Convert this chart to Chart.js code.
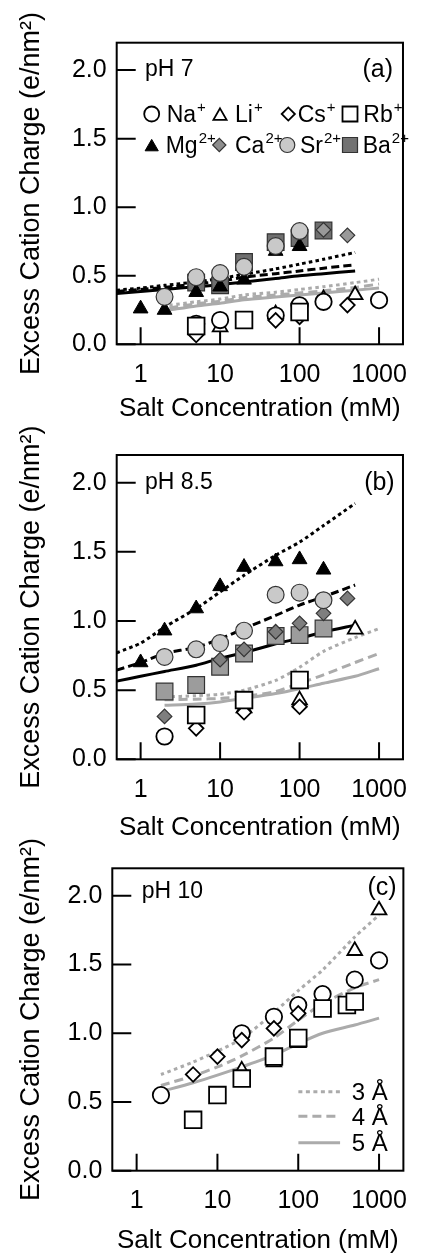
<!DOCTYPE html>
<html>
<head>
<meta charset="utf-8">
<script src="https://cdn.jsdelivr.net/npm/chart.js@4.4.1/dist/chart.umd.min.js"></script>
<style>
  html, body { margin: 0; padding: 0; background: #fff; }
  #wrap { position: relative; width: 426px; height: 1255px; overflow: hidden; }
  canvas { position: absolute; left: 0; }
</style>
</head>
<body>
<div id="wrap">
  <canvas id="pa" width="426" height="430" style="top:0px"></canvas>
  <canvas id="pb" width="426" height="440" style="top:410px"></canvas>
  <canvas id="pc" width="426" height="425" style="top:830px"></canvas>
</div>
<script>
const FONT = '"Liberation Sans", Arial, Helvetica, sans-serif';

// Axis ticks and titles
const saltTicks = [1, 10, 100, 1000];
const chargeTicks = [0, 0.5, 1.0, 1.5, 2.0];
const xTitle = 'Salt Concentration (mM)';
const yTitle = 'Excess Cation Charge (e/nm²)';

// ---------- pH 7 : measured excess charge [salt mM, e/nm²] ----------
const na7 = [[5, 0.15], [10, 0.177], [50, 0.21], [100, 0.285], [200, 0.31], [1000, 0.322]];
const li7 = [[10, 0.125], [50, 0.22], [200, 0.33], [500, 0.36]];
const cs7 = [[5, 0.068], [50, 0.175], [100, 0.2], [400, 0.286]];
const rb7 = [[5, 0.133], [20, 0.177], [100, 0.236]];
const mg7 = [[1, 0.26], [2, 0.25], [5, 0.38], [10, 0.42], [20, 0.47], [50, 0.68], [100, 0.715]];
const ca7 = [[200, 0.835], [400, 0.795]];
const sr7 = [[2, 0.346], [5, 0.49], [10, 0.52], [20, 0.565], [50, 0.717], [100, 0.826]];
const ba7 = [[5, 0.45], [10, 0.43], [20, 0.60], [50, 0.745], [100, 0.775], [200, 0.83]];
// model curves, divalent (black) and monovalent (gray)
const xDiv7 = [0.5, 1, 2, 5, 10, 20, 50, 100, 200, 500];
const divDot7 = [0.395, 0.41, 0.43, 0.455, 0.48, 0.51, 0.55, 0.585, 0.62, 0.67];
const divDash7 = [0.385, 0.40, 0.415, 0.44, 0.46, 0.49, 0.515, 0.535, 0.555, 0.58];
const divSolid7 = [0.37, 0.385, 0.40, 0.42, 0.435, 0.455, 0.48, 0.50, 0.515, 0.535];
const xMono7 = [2.3, 5, 10, 20, 50, 100, 200, 500, 1000];
const monoDot7 = [0.285, 0.31, 0.33, 0.36, 0.38, 0.40, 0.42, 0.45, 0.475];
const monoDash7 = [0.265, 0.295, 0.315, 0.34, 0.36, 0.375, 0.39, 0.415, 0.44];
const monoSolid7 = [0.25, 0.28, 0.30, 0.325, 0.345, 0.36, 0.375, 0.395, 0.41];

// ---------- pH 8.5 ----------
const na85 = [[2, 0.165]];
const li85 = [[20, 0.37], [100, 0.428], [500, 0.94]];
const cs85 = [[5, 0.224], [20, 0.34], [100, 0.38]];
const rb85 = [[5, 0.32], [20, 0.428], [100, 0.573]];
const mg85 = [[1, 0.70], [2, 0.93], [5, 1.09], [10, 1.25], [20, 1.39], [50, 1.43], [100, 1.445], [200, 1.37]];
const ca85 = [[2, 0.31], [10, 0.72], [20, 0.795], [50, 0.922], [100, 0.983], [200, 1.055], [400, 1.163]];
const sr85 = [[2, 0.74], [5, 0.795], [10, 0.84], [20, 0.93], [50, 1.19], [100, 1.205], [200, 1.15]];
const ba85 = [[2, 0.49], [5, 0.537], [10, 0.669], [20, 0.765], [50, 0.891], [100, 0.898], [200, 0.946]];
const xDiv85 = [0.5, 1, 2, 5, 10, 20, 50, 100, 200, 500];
const divDot85 = [0.77, 0.84, 0.955, 1.09, 1.21, 1.33, 1.475, 1.57, 1.69, 1.85];
const divDash85 = [0.645, 0.70, 0.765, 0.81, 0.87, 0.945, 1.04, 1.115, 1.175, 1.26];
const divSolid85 = [0.565, 0.60, 0.635, 0.68, 0.73, 0.77, 0.835, 0.875, 0.92, 0.97];
const xMono85 = [2, 5, 10, 20, 50, 100, 200, 500, 1000];
const monoDot85 = [0.45, 0.46, 0.47, 0.50, 0.57, 0.665, 0.78, 0.88, 0.945];
const monoDash85 = [0.43, 0.435, 0.44, 0.455, 0.49, 0.55, 0.61, 0.70, 0.765];
const monoSolid85 = [0.39, 0.40, 0.415, 0.44, 0.475, 0.51, 0.55, 0.60, 0.655];

// ---------- pH 10 ----------
const na10 = [[2, 0.55], [20, 1.0], [50, 1.12], [100, 1.205], [200, 1.285], [500, 1.39], [1000, 1.53]];
const li10 = [[20, 0.73], [50, 0.79], [100, 0.93], [500, 1.60], [1000, 1.895]];
const cs10 = [[5, 0.70], [10, 0.83], [20, 0.95], [50, 1.035], [100, 1.145]];
const rb10 = [[5, 0.37], [10, 0.55], [20, 0.67], [50, 0.83], [100, 0.965], [200, 1.18], [400, 1.205], [500, 1.23]];
const xMono10 = [2, 5, 10, 20, 50, 100, 200, 500, 1000];
const r3A = [0.70, 0.79, 0.87, 0.96, 1.15, 1.31, 1.46, 1.70, 1.86];
const r4A = [0.62, 0.69, 0.755, 0.835, 0.965, 1.095, 1.215, 1.33, 1.39];
const r5A = [0.575, 0.64, 0.695, 0.755, 0.84, 0.925, 1.0, 1.06, 1.11];

// ---------- styles ----------
const GRAY_LINE = '#ababab';
const MARK = {
  na: { pointStyle: 'circle',   radius: 8.2, bg: '#ffffff', bc: '#000', bw: 1.8 },
  li: { pointStyle: 'triangle', radius: 8.5, bg: '#ffffff', bc: '#000', bw: 1.8 },
  cs: { pointStyle: 'rectRot',  radius: 7.3, bg: '#ffffff', bc: '#000', bw: 1.8 },
  rb: { pointStyle: 'rect',     radius: 11.8, bg: '#ffffff', bc: '#000', bw: 1.8 },
  mg: { pointStyle: 'triangle', radius: 8.5, bg: '#000000', bc: '#000', bw: 1 },
  ca: { pointStyle: 'rectRot',  radius: 7.3, bg: '#8e8e8e', bc: '#333', bw: 1.2 },
  sr: { pointStyle: 'circle',   radius: 8.4, bg: '#c9c9c9', bc: '#333', bw: 1.2 },
  ba: { pointStyle: 'rect',     radius: 11.8, bg: '#727272', bc: '#333', bw: 1.2 }
};

function markers(label, pairs, key, order, fill) {
  const m = MARK[key];
  return {
    label, order, clip: false, showLine: false,
    data: pairs.map(([x, y]) => ({ x, y })),
    pointStyle: m.pointStyle, pointRadius: m.radius,
    pointBackgroundColor: fill || m.bg, pointBorderColor: m.bc, pointBorderWidth: m.bw
  };
}
function curve(label, xs, ys, color, dash, order) {
  return {
    label, order, showLine: true, pointRadius: 0,
    data: xs.map((x, i) => ({ x, y: ys[i] })),
    borderColor: color, borderWidth: 3, borderDash: dash, tension: 0.25, fill: false
  };
}

// ---------- frame, inner ticks, annotations ----------
const extras = {};
function supText(ctx, x, y, base, sup, size) {
  ctx.font = size + 'px ' + FONT;
  ctx.textAlign = 'left';
  ctx.textBaseline = 'alphabetic';
  ctx.fillText(base, x, y);
  const w = ctx.measureText(base).width;
  if (sup) {
    ctx.font = '15px ' + FONT;
    ctx.fillText(sup, x + w + 1, y - 10);
  }
}
const framePlugin = {
  id: 'frame',
  beforeDatasetsDraw(chart) {
    const { ctx, chartArea: a, scales: { x, y } } = chart;
    ctx.save();
    ctx.strokeStyle = '#000';
    ctx.lineWidth = 2;
    ctx.beginPath();
    saltTicks.forEach(v => {
      const px = x.getPixelForValue(v);
      ctx.moveTo(px, a.bottom); ctx.lineTo(px, a.bottom - 17);
    });
    chargeTicks.forEach(v => {
      const py = y.getPixelForValue(v);
      ctx.moveTo(a.left, py); ctx.lineTo(a.left + 19, py);
    });
    ctx.stroke();
    ctx.restore();
  },
  afterDatasetsDraw(chart) {
    const { ctx, chartArea: a, scales: { y } } = chart;
    const ex = extras[chart.canvas.id];
    ctx.save();
    ctx.strokeStyle = '#000';
    ctx.lineWidth = 2;
    ctx.strokeRect(a.left, a.top, a.right - a.left, a.bottom - a.top);

    ctx.fillStyle = '#000';
    const yTop = y.getPixelForValue(2.0);
    ctx.font = '23px ' + FONT;
    ctx.textAlign = 'left';
    ctx.textBaseline = 'middle';
    ctx.fillText(ex.ph, a.left + ex.phDx, yTop + ex.phDy);
    ctx.font = '25px ' + FONT;
    ctx.textAlign = 'right';
    ctx.fillText(ex.tag, a.right - ex.tagDx, yTop + ex.tagDy);

    if (ex.legend === 'ions') {
      const rows = [
        [['na', 35, 'Na', '+', 50], ['li', 103.3, 'Li', '+', 118.3], ['cs', 171.6, 'Cs', '+', 181], ['rb', 233.3, 'Rb', '+', 246.6]],
        [['mg', 35, 'Mg', '2+', 49], ['ca', 102.6, 'Ca', '2+', 118.3], ['sr', 170.6, 'Sr', '2+', 183.3], ['ba', 233.3, 'Ba', '2+', 246]]
      ];
      const rowY = [114 - 42.7, 145 - 42.7];
      rows.forEach((row, r) => {
        row.forEach(([key, mx, base, sup, tx]) => {
          const m = MARK[key];
          const cy = a.top + rowY[r];
          ctx.fillStyle = m.bg;
          ctx.strokeStyle = m.bc;
          ctx.lineWidth = m.bw;
          const rad = key === 'rb' || key === 'ba' ? 10.6 : (key === 'na' || key === 'sr' ? 7.5 : (key === 'cs' || key === 'ca' ? 6.6 : 7.6));
          Chart.helpers.drawPoint(ctx, { pointStyle: m.pointStyle, rotation: 0, radius: rad, borderWidth: m.bw }, a.left + mx, cy + (m.pointStyle === 'triangle' ? 2 : 0));
          ctx.fillStyle = '#000';
          supText(ctx, a.left + tx, cy + 8.3, base, sup, 23);
        });
      });
    } else if (ex.legend === 'radii') {
      const items = [['3 Å', [4, 3.5], 79], ['4 Å', [9, 5], 54.5], ['5 Å', [], 28]];
      items.forEach(([txt, dash, dy]) => {
        const cy = a.bottom - dy;
        ctx.strokeStyle = GRAY_LINE;
        ctx.lineWidth = 3;
        ctx.setLineDash(dash);
        ctx.beginPath();
        ctx.moveTo(a.right - 105, cy); ctx.lineTo(a.right - 63.3, cy);
        ctx.stroke();
        ctx.setLineDash([]);
        ctx.fillStyle = '#000';
        ctx.font = '24px ' + FONT;
        ctx.textAlign = 'left';
        ctx.textBaseline = 'alphabetic';
        ctx.fillText(txt, a.right - 51.7, cy + 8.5);
      });
    }
    ctx.restore();
  }
};

function panel(id, cfg) {
  extras[id] = cfg.extra;
  return new Chart(document.getElementById(id), {
    type: 'scatter',
    data: { datasets: cfg.datasets },
    options: {
      responsive: false, animation: false, devicePixelRatio: 1,
      layout: { padding: { top: cfg.padTop, right: cfg.padRight, left: 0, bottom: 0 } },
      plugins: { legend: { display: false }, tooltip: { enabled: false } },
      scales: {
        x: {
          type: 'logarithmic', min: 0.5, max: 2000, position: 'bottom',
          afterBuildTicks: s => { s.ticks = saltTicks.map(v => ({ value: v })); },
          afterFit: s => { s.height = cfg.xHeight; },
          grid: { display: false, drawTicks: false }, border: { display: false },
          ticks: { color: '#000', font: { family: FONT, size: 25, lineHeight: 1 }, padding: 18,
                   maxRotation: 0, autoSkip: false, callback: v => String(v) },
          title: { display: true, text: xTitle, color: '#000',
                   font: { family: FONT, size: 26, lineHeight: 1 }, padding: { top: 0, bottom: cfg.xTitlePad } }
        },
        y: {
          type: 'linear', min: 0, max: 2.2,
          afterBuildTicks: s => { s.ticks = chargeTicks.map(v => ({ value: v })); },
          afterFit: s => { s.width = cfg.yWidth; },
          grid: { display: false, drawTicks: false }, border: { display: false },
          ticks: { color: '#000', font: { family: FONT, size: 25, lineHeight: 1 }, padding: 10,
                   callback: v => Number(v).toFixed(1) },
          title: { display: true, text: yTitle, color: '#000',
                   font: { family: FONT, size: 27, lineHeight: 1 }, padding: { top: 18, bottom: 0 } }
        }
      }
    },
    plugins: [framePlugin]
  });
}

const DOT_B = [3.5, 3.2], DASH_B = [8, 4], DOT_G = [3.5, 3.5], DASH_G = [9, 5];

panel('pa', {
  padTop: 42.7, padRight: 7.7, yWidth: 116.7, xHeight: 85.7, xTitlePad: 8,
  extra: { ph: 'pH 7', phDx: 28.3, phDy: 0, tag: '(a)', tagDx: 10, tagDy: 0, legend: 'ions' },
  datasets: [
    markers('Sr²⁺', sr7, 'sr', 0),
    markers('Mg²⁺', mg7, 'mg', 1),
    markers('Ca²⁺', ca7, 'ca', 2, '#999999'),
    markers('Ba²⁺', ba7, 'ba', 3, '#6f6f6f'),
    markers('Rb⁺', rb7, 'rb', 4),
    markers('Cs⁺', cs7, 'cs', 5),
    markers('Na⁺', na7, 'na', 6),
    markers('Li⁺', li7, 'li', 7),
    curve('3 Å div', xDiv7, divDot7, '#000', DOT_B, 8),
    curve('4 Å div', xDiv7, divDash7, '#000', DASH_B, 9),
    curve('5 Å div', xDiv7, divSolid7, '#000', [], 10),
    curve('3 Å mono', xMono7, monoDot7, GRAY_LINE, DOT_G, 11),
    curve('4 Å mono', xMono7, monoDash7, GRAY_LINE, DASH_G, 12),
    curve('5 Å mono', xMono7, monoSolid7, GRAY_LINE, [], 13)
  ]
});

panel('pb', {
  padTop: 45, padRight: 7.7, yWidth: 116.7, xHeight: 90.7, xTitlePad: 9.5,
  extra: { ph: 'pH 8.5', phDx: 28.3, phDy: 0, tag: '(b)', tagDx: 8.3, tagDy: 0, legend: null },
  datasets: [
    markers('Sr²⁺', sr85, 'sr', 0),
    markers('Mg²⁺', mg85, 'mg', 1),
    markers('Ca²⁺', ca85, 'ca', 2, '#7e7e7e'),
    markers('Ba²⁺', ba85, 'ba', 3, '#9c9c9c'),
    markers('Rb⁺', rb85, 'rb', 4),
    markers('Cs⁺', cs85, 'cs', 5),
    markers('Na⁺', na85, 'na', 6),
    markers('Li⁺', li85, 'li', 7),
    curve('3 Å div', xDiv85, divDot85, '#000', DOT_B, 8),
    curve('4 Å div', xDiv85, divDash85, '#000', DASH_B, 9),
    curve('5 Å div', xDiv85, divSolid85, '#000', [], 10),
    curve('3 Å mono', xMono85, monoDot85, GRAY_LINE, DOT_G, 11),
    curve('4 Å mono', xMono85, monoDash85, GRAY_LINE, DASH_G, 12),
    curve('5 Å mono', xMono85, monoSolid85, GRAY_LINE, [], 13)
  ]
});

panel('pc', {
  padTop: 38.3, padRight: 11, yWidth: 112.3, xHeight: 84.3, xTitlePad: 1,
  extra: { ph: 'pH 10', phDx: 29.4, phDy: -4, tag: '(c)', tagDx: 6.7, tagDy: -8, legend: 'radii' },
  datasets: [
    markers('Rb⁺', rb10, 'rb', 0),
    markers('Cs⁺', cs10, 'cs', 1),
    markers('Na⁺', na10, 'na', 2),
    markers('Li⁺', li10, 'li', 3),
    curve('3 Å', xMono10, r3A, GRAY_LINE, DOT_G, 4),
    curve('4 Å', xMono10, r4A, GRAY_LINE, DASH_G, 5),
    curve('5 Å', xMono10, r5A, GRAY_LINE, [], 6)
  ]
});
</script>
</body>
</html>
